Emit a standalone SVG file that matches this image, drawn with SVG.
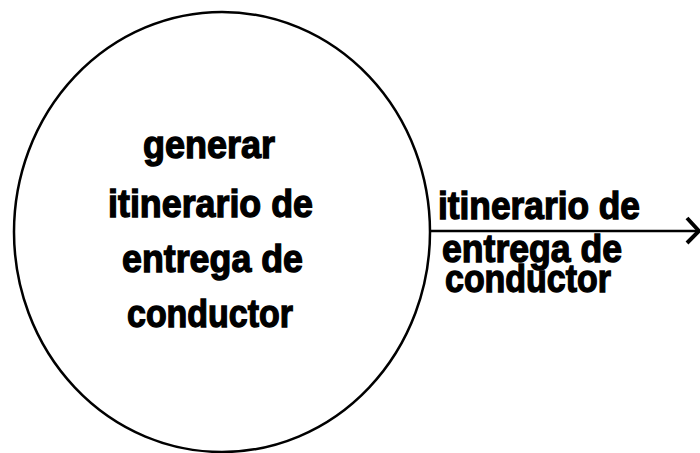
<svg xmlns="http://www.w3.org/2000/svg" width="700" height="453" viewBox="0 0 700 453">
<style>
.t{font-family:"Liberation Sans",Arial,sans-serif;font-weight:bold;font-size:38px;fill:#000;stroke:#000;stroke-width:1.3px}
.ln{fill:none;stroke:#000;stroke-width:2.5}
</style>
<rect width="700" height="453" fill="#fff"/>
<g id="process">
<ellipse cx="222" cy="232" rx="208" ry="220" class="ln"/>
<text class="t" x="143" y="158" textLength="132" lengthAdjust="spacingAndGlyphs">generar</text>
<text class="t" x="108" y="217" textLength="205" lengthAdjust="spacingAndGlyphs">itinerario de</text>
<text class="t" x="122" y="272" textLength="181" lengthAdjust="spacingAndGlyphs">entrega de</text>
<text class="t" x="127" y="327" textLength="166" lengthAdjust="spacingAndGlyphs">conductor</text>
</g>
<g id="connectors">
<line x1="429" y1="231" x2="698" y2="231" class="ln"/>
<polyline points="687,218 699,231 687,243" fill="none" stroke="#000" stroke-width="4"/>
<text class="t" x="438" y="219" textLength="202" lengthAdjust="spacingAndGlyphs">itinerario de</text>
<text class="t" x="442" y="262" textLength="180" lengthAdjust="spacingAndGlyphs">entrega de</text>
<text class="t" x="445" y="292" textLength="166" lengthAdjust="spacingAndGlyphs">conductor</text>
</g>
</svg>
